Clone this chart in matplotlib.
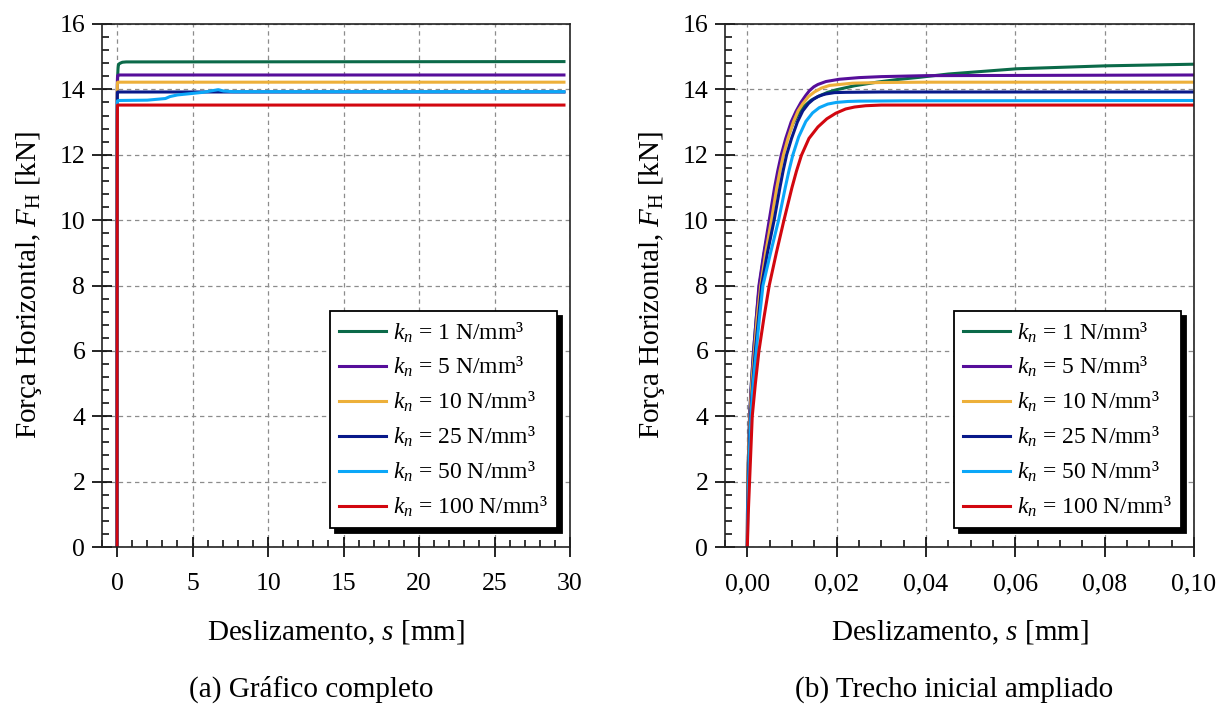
from __future__ import annotations

import matplotlib

matplotlib.use("Agg")

import matplotlib.pyplot as plt
from matplotlib.patches import Shadow
from matplotlib.ticker import FuncFormatter, MultipleLocator


# slip s [mm] and horizontal force F_H [kN]
S_KN1 = [0, 0.00003, 0.0001, 0.0003, 0.0005, 0.0009, 0.0014, 0.002, 0.0027,
         0.0038, 0.0051, 0.0063, 0.0070, 0.0078, 0.0089, 0.0102, 0.0115,
         0.0127, 0.0143, 0.0161, 0.018, 0.02, 0.024, 0.029, 0.0335, 0.0386,
         0.045, 0.0603, 0.0802, 0.1, 0.2, 0.35, 0.6, 29.6]
F_KN1 = [0, 1, 2, 3, 4, 5, 6, 7, 8, 9, 10, 11, 11.5, 12.0, 12.5, 12.95, 13.27,
         13.48, 13.67, 13.8, 13.91, 13.99, 14.11, 14.22, 14.3, 14.37, 14.47,
         14.63, 14.72, 14.77, 14.8, 14.83, 14.84, 14.85]

S_KN5 = [0, 0.00003, 0.0001, 0.0003, 0.0005, 0.0009, 0.0014, 0.002, 0.0026,
         0.0037, 0.0049, 0.0061, 0.0068, 0.0076, 0.0086, 0.0098, 0.0109,
         0.012, 0.013, 0.0139, 0.0149, 0.0158, 0.0176, 0.0206, 0.025, 0.03,
         0.04, 0.1, 29.6]
F_KN5 = [0, 1, 2, 3, 4, 5, 6, 7, 8, 9, 10, 11, 11.5, 12.0, 12.5, 13.0, 13.33,
         13.6, 13.8, 13.96, 14.08, 14.15, 14.24, 14.31, 14.36, 14.39, 14.42,
         14.44, 14.44]

S_KN10 = [0, 0.00004, 0.0001, 0.0003, 0.0006, 0.001, 0.0016, 0.0022, 0.003,
          0.0041, 0.0054, 0.0066, 0.0073, 0.0081, 0.0091, 0.0103, 0.0114,
          0.0124, 0.0137, 0.015, 0.0166, 0.0184, 0.0236, 0.03, 0.04, 0.1, 29.6]
F_KN10 = [0, 1, 2, 3, 4, 5, 6, 7, 8, 9, 10, 11, 11.5, 12.0, 12.5, 13.0, 13.35,
          13.56, 13.78, 13.92, 14.04, 14.12, 14.19, 14.21, 14.22, 14.22, 14.22]

S_KN25 = [0, 0.00005, 0.0002, 0.0004, 0.0007, 0.0012, 0.0018, 0.0025, 0.0032,
          0.0045, 0.006, 0.0073, 0.008, 0.0088, 0.0099, 0.0112, 0.0124, 0.0137,
          0.0148, 0.0158, 0.0168, 0.0176, 0.0195, 0.022, 0.03, 0.1, 29.6]
F_KN25 = [0, 1, 2, 3, 4, 5, 6, 7, 8, 9, 10, 11, 11.5, 12.0, 12.5, 13.0, 13.34,
          13.57, 13.7, 13.78, 13.83, 13.86, 13.9, 13.91, 13.92, 13.92, 13.92]

S_KN50 = [0, 0.0001, 0.0003, 0.0005, 0.0008, 0.0013, 0.002, 0.0027, 0.0035,
          0.0052, 0.007, 0.0085, 0.0093, 0.0102, 0.0115, 0.0131, 0.0146,
          0.0161, 0.018, 0.0199, 0.0225, 0.025, 0.035, 0.1, 2.0, 3.2, 3.5, 4.0,
          4.85, 5.7, 6.3, 6.7, 7.05, 7.7, 29.6]
F_KN50 = [0, 1, 2, 3, 4, 5, 6, 7, 8, 9, 10, 11, 11.5, 12.0, 12.55, 13.02,
          13.28, 13.44, 13.55, 13.6, 13.63, 13.64, 13.65, 13.66, 13.67, 13.72,
          13.78, 13.83, 13.87, 13.91, 13.96, 13.99, 13.95, 13.93, 13.93]

S_KN100 = [0, 0.0002, 0.0005, 0.0008, 0.0011, 0.0018, 0.0026, 0.0037, 0.0049,
           0.0065, 0.0082, 0.01, 0.011, 0.0121, 0.0138, 0.0158, 0.0178,
           0.0198, 0.022, 0.024, 0.0265, 0.03, 0.04, 0.1, 29.6]
F_KN100 = [0, 1, 2, 3, 4, 5, 6, 7, 8, 9, 10, 11, 11.5, 11.98, 12.5, 12.85,
           13.1, 13.27, 13.4, 13.46, 13.5, 13.52, 13.52, 13.52, 13.52]

KN_VALUES = [1, 5, 10, 25, 50, 100]
COLORS = ["#0B6A49", "#560E9A", "#EDB03A", "#08198A", "#0BA7F8", "#D2070F"]

SERIES = [
    (S_KN1, F_KN1),
    (S_KN5, F_KN5),
    (S_KN10, F_KN10),
    (S_KN25, F_KN25),
    (S_KN50, F_KN50),
    (S_KN100, F_KN100),
]

plt.rcParams["font.family"] = ["Liberation Serif", "DejaVu Serif"]
plt.rcParams["mathtext.fontset"] = "custom"
plt.rcParams["mathtext.rm"] = "Liberation Serif"
plt.rcParams["mathtext.it"] = "Liberation Serif:italic"
plt.rcParams["mathtext.bf"] = "Liberation Serif:bold"

TICK_SIZE = 18.5
LABEL_SIZE = 21
LEGEND_SIZE = 17


def comma_decimal(value: float, _pos: int) -> str:
    return f"{value:.2f}".replace(".", ",")


def style_axis(axis: plt.Axes) -> None:
    for spine in axis.spines.values():
        spine.set_linewidth(1.2)
        spine.set_color("#222222")
    axis.tick_params(which="major", direction="inout", length=14, width=1.2,
                     labelsize=TICK_SIZE, top=False, right=False)
    axis.tick_params(which="minor", direction="in", length=5, width=1.1,
                     top=False, right=False)
    axis.tick_params(axis="x", which="major", pad=12)
    axis.tick_params(axis="y", which="major", pad=5)
    axis.grid(True, which="major", linestyle=(0, (3.5, 3)), color="#8c8c8c",
              linewidth=0.9)
    axis.set_axisbelow(True)
    axis.set_ylim(0, 16)
    axis.yaxis.set_major_locator(MultipleLocator(2))
    axis.yaxis.set_minor_locator(MultipleLocator(0.4))
    axis.set_xlabel(r"Deslizamento, $s$ [mm]", fontsize=LABEL_SIZE, labelpad=17)
    axis.set_ylabel(r"Força Horizontal, $F_\mathrm{H}$ [kN]", fontsize=LABEL_SIZE,
                    labelpad=11)


def draw_curves(axis: plt.Axes) -> None:
    for (slip, force), kn, color in zip(SERIES, KN_VALUES, COLORS):
        axis.plot(slip, force, color=color, linewidth=2.2,
                  label=rf"$k_n$ = {kn} N/mm³")


def add_legend(axis: plt.Axes):
    legend = axis.legend(loc="lower right", bbox_to_anchor=(0.972, 0.036),
                         borderaxespad=0, fontsize=LEGEND_SIZE, fancybox=False,
                         framealpha=1, edgecolor="black", handlelength=2.0,
                         handletextpad=0.3, labelspacing=0.45, borderpad=0.38)
    legend.get_frame().set_linewidth(1.3)
    shadow = Shadow(legend.legendPatch, 3.6, -3.6, facecolor="black",
                    edgecolor="black", alpha=1)
    shadow.set_zorder(4.9)
    axis.add_artist(shadow)
    return legend


def main() -> None:
    figure = plt.figure(figsize=(12.3, 7.04), dpi=100)
    left = figure.add_axes([102 / 1230, 157 / 704, 468 / 1230, 523 / 704])
    right = figure.add_axes([725 / 1230, 157 / 704, 469 / 1230, 523 / 704])

    draw_curves(left)
    style_axis(left)
    left.set_xlim(-1, 30)
    left.xaxis.set_major_locator(MultipleLocator(5))
    left.xaxis.set_minor_locator(MultipleLocator(1))
    add_legend(left)

    draw_curves(right)
    style_axis(right)
    right.set_xlim(-0.005, 0.1)
    right.xaxis.set_major_locator(MultipleLocator(0.02))
    right.xaxis.set_minor_locator(MultipleLocator(0.005))
    right.xaxis.set_major_formatter(FuncFormatter(comma_decimal))
    add_legend(right)

    figure.text(311 / 1230, 7 / 704, "(a) Gráfico completo", fontsize=LABEL_SIZE,
                ha="center", va="baseline")
    figure.text(954 / 1230, 7 / 704, "(b) Trecho inicial ampliado",
                fontsize=LABEL_SIZE, ha="center", va="baseline")

    # first draw places the legends so the shadows can follow them
    figure.canvas.draw()
    figure.savefig("out.png", dpi=100)
    plt.close(figure)


if __name__ == "__main__":
    main()
